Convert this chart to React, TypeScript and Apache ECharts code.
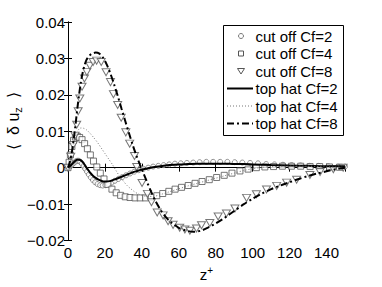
import React, { useEffect, useRef } from "react";
import * as echarts from "echarts";

// cut off Cf=2 (circles)
const cutOff2: [number, number][] = [
  [0, 0], [0.5, 0.0001], [1, 0.0003], [1.5, 0.0005], [2, 0.0008], [2.7, 0.0011], [3.4, 0.0014],
  [4.2, 0.0017], [5, 0.0019], [5.8, 0.0019], [6.6, 0.0016], [7.5, 0.0011], [8.4, 0.0004],
  [9.3, -0.0003], [10.3, -0.0011], [11.3, -0.0019], [12.4, -0.0027], [13.5, -0.0034],
  [14.7, -0.004], [16, -0.0045], [17.4, -0.0048], [18.8, -0.0049], [20.3, -0.0048],
  [21.9, -0.0045], [23.6, -0.0041], [25.4, -0.0036], [27.3, -0.0031], [29.3, -0.0026],
  [31.4, -0.0021], [33.6, -0.0016], [35.9, -0.0011], [38.3, -0.0007], [40.8, -0.0003],
  [43.4, 0.0], [46.1, 0.0003], [48.9, 0.0005], [51.8, 0.0007], [54.8, 0.0009], [57.9, 0.0011],
  [61.1, 0.0012], [64.4, 0.0013], [67.8, 0.0014], [71.3, 0.0015], [74.9, 0.0016], [78.6, 0.0016],
  [82.4, 0.0016], [86.3, 0.0016], [90.3, 0.0015], [94.4, 0.0014], [98.6, 0.0013], [102.9, 0.0012],
  [107.3, 0.001], [111.8, 0.0009], [116.4, 0.0008], [121.1, 0.0007], [125.9, 0.0006],
  [130.8, 0.0005], [135.8, 0.0005], [140.9, 0.0004], [146.1, 0.0003], [150, 0.0003],
];

// cut off Cf=4 (squares)
const cutOff4: [number, number][] = [
  [0, 0], [0.6, 0.0015], [1.3, 0.0035], [2.1, 0.0058], [3, 0.0075], [4, 0.0084], [5.1, 0.0086],
  [6.3, 0.0083], [7.6, 0.0077], [9, 0.0066], [10.5, 0.0052], [12.1, 0.0035], [13.8, 0.0018],
  [15.6, 0.0002], [17.5, -0.0015], [19.5, -0.0031], [21.6, -0.0046], [23.8, -0.0059],
  [26.1, -0.0069], [28.5, -0.0076], [31, -0.008], [33.6, -0.0082], [36.3, -0.0083],
  [39.1, -0.0083], [42, -0.0083], [45, -0.0081], [48.1, -0.0077], [51.3, -0.0071],
  [54.6, -0.0065], [58, -0.0059], [61.5, -0.0054], [65.1, -0.0049], [68.8, -0.0043],
  [72.6, -0.0038], [76.5, -0.0033], [80.5, -0.0027], [84.6, -0.0021], [88.8, -0.0015],
  [93.1, -0.0009], [97.5, -0.0004], [102, 0.0], [106.6, 0.0002], [111.3, 0.0003],
  [116.1, 0.0004], [121, 0.0004], [126, 0.0004], [131.1, 0.0003], [136.3, 0.0003],
  [141.6, 0.0002], [147, 0.0001],
];

// cut off Cf=8 (down triangles)
const cutOff8: [number, number][] = [
  [0, 0], [1.5, 0.003], [2.8, 0.0062], [3.8, 0.0088], [4.7, 0.0118], [5.5, 0.0155], [6.4, 0.019],
  [7.6, 0.0222], [8.9, 0.0245], [10.2, 0.0263], [11.8, 0.028], [13.6, 0.029], [15.5, 0.0294],
  [18, 0.029], [20.6, 0.0262], [23, 0.0235], [24.6, 0.0202], [26.9, 0.0172], [28.8, 0.0137],
  [31.3, 0.0097], [33.4, 0.0066], [36, 0.0032], [37.2, 0.0002], [40.1, -0.0042], [43, -0.0072],
  [45.2, -0.0095], [48.3, -0.0123], [51.5, -0.0131], [54.2, -0.0147], [56.9, -0.0157],
  [60.5, -0.0165], [63.3, -0.017], [66, -0.0173], [69.6, -0.0167], [72.3, -0.0158],
  [76.8, -0.0152], [81.3, -0.0134], [85.8, -0.0126], [90.4, -0.0112], [96.7, -0.0083],
  [102, -0.0073], [107.5, -0.006], [113, -0.005], [118.4, -0.0041], [123.8, -0.0033],
  [131, -0.002], [136.5, -0.0012], [143.7, -0.0004], [149, 0.0],
];

// top hat Cf=2 (solid)
const topHat2: [number, number][] = [
  [0, 0], [1, 0.0004], [2, 0.0009], [3, 0.0014], [4, 0.0019], [5, 0.0022], [6, 0.0022], [7, 0.002],
  [8, 0.0015], [9, 0.0008], [10, 0.0], [11, -0.0007], [12, -0.0014], [13.5, -0.0022], [15, -0.0028],
  [16.5, -0.0033], [18, -0.0036], [19.5, -0.0038], [21, -0.0038], [22.5, -0.0037], [24, -0.0035],
  [26, -0.0031], [28, -0.0027], [30, -0.0023], [32.5, -0.0018], [35, -0.0013], [37.5, -0.0009],
  [40, -0.0005], [43, -0.0002], [46, 0.0001], [50, 0.0004], [55, 0.0007], [60, 0.0009],
  [65, 0.001], [70, 0.0011], [75, 0.0011], [80, 0.0011], [85, 0.0011], [90, 0.001], [95, 0.001],
  [100, 0.0009], [110, 0.0007], [120, 0.0006], [130, 0.0005], [140, 0.0004], [150, 0.0004],
];

// top hat Cf=4 (dotted)
const topHat4: [number, number][] = [
  [0, 0], [1, 0.0018], [2, 0.0042], [3, 0.0066], [4, 0.0086], [5, 0.0099], [6, 0.0106], [7, 0.0109],
  [8.5, 0.0108], [10, 0.0104], [12, 0.0094], [14, 0.0082], [16, 0.0069], [18, 0.0054], [20, 0.0039],
  [22, 0.0024], [24, 0.0009], [26, -0.0008], [28, -0.0024], [30, -0.0037], [32, -0.0049],
  [34, -0.0058], [36, -0.0066], [38, -0.0072], [40, -0.0076], [43, -0.0079], [46, -0.0079],
  [50, -0.0074], [55, -0.0066], [60, -0.0058], [65, -0.005], [70, -0.0043], [75, -0.0036],
  [80, -0.0029], [85, -0.0022], [90, -0.0015], [95, -0.0008], [100, -0.0003], [105, 0.0001],
  [110, 0.0003], [120, 0.0004], [130, 0.0004], [140, 0.0002], [150, 0.0001],
];

// top hat Cf=8 (dash-dot)
const topHat8: [number, number][] = [
  [0, 0], [1, 0.0015], [2, 0.004], [3, 0.0075], [4, 0.0115], [5, 0.016], [6, 0.02], [7, 0.0235],
  [8, 0.0262], [9, 0.0282], [10, 0.0296], [11.5, 0.0307], [13, 0.0313], [15, 0.0316], [17, 0.0313],
  [19, 0.0302], [21, 0.0283], [23, 0.0258], [25, 0.0228], [27, 0.0196], [29, 0.0162], [31, 0.0128],
  [33, 0.0095], [35, 0.0063], [37, 0.0034], [39, 0.0008], [41, -0.0017], [43, -0.0042],
  [45, -0.0066], [47, -0.0088], [50, -0.0115], [53, -0.0136], [56, -0.0151], [60, -0.0165],
  [64, -0.0173], [68, -0.0176], [72, -0.0173], [76, -0.0164], [80, -0.0153], [85, -0.0137],
  [90, -0.0119], [95, -0.0101], [100, -0.0085], [105, -0.0071], [110, -0.0059], [115, -0.0049],
  [120, -0.004], [125, -0.0031], [130, -0.0023], [135, -0.0016], [140, -0.001], [145, -0.0004],
  [150, 0],
];

const seriesNames = [
  "cut off Cf=2",
  "cut off Cf=4",
  "cut off Cf=8",
  "top hat Cf=2",
  "top hat Cf=4",
  "top hat Cf=8",
];

const xMin = 0;
const xMax = 150;
const xInterval = 20;
const yMin = -0.02;
const yMax = 0.04;
const yInterval = 0.01;

const FONT = "'Liberation Sans', Arial, Helvetica, sans-serif";
const FS = 15;
const TRI_DOWN = "path://M0,0L10,0L5,9Z";

const CIRCLE_C = "#777";
const SQUARE_C = "#555";
const TRI_C = "#555";
const DOT_C = "#777";

function buildLegend() {
  const boxX = 223.5, boxY = 25.5, boxW = 120, boxH = 110;
  const rowY0 = 36, rowStep = 17.5;
  const markX = 241, lineX0 = 227, lineX1 = 253, textX = 255.5;
  const children: any[] = [
    { type: "rect", shape: { x: boxX, y: boxY, width: boxW, height: boxH }, style: { fill: "#fff", stroke: "#000", lineWidth: 1 } },
  ];
  seriesNames.forEach((name, i) => {
    const y = rowY0 + i * rowStep;
    if (i === 0) {
      children.push({ type: "circle", shape: { cx: markX, cy: y, r: 2.5 }, style: { fill: "#fff", stroke: CIRCLE_C, lineWidth: 1 } });
    } else if (i === 1) {
      children.push({ type: "rect", shape: { x: markX - 2.5, y: y - 2.5, width: 5, height: 5 }, style: { fill: "#fff", stroke: SQUARE_C, lineWidth: 1 } });
    } else if (i === 2) {
      children.push({ type: "polygon", shape: { points: [[markX - 3.5, y - 2.5], [markX + 3.5, y - 2.5], [markX, y + 3]] }, style: { fill: "#fff", stroke: TRI_C, lineWidth: 1 } });
    } else if (i === 3) {
      children.push({ type: "line", shape: { x1: lineX0, y1: y, x2: lineX1, y2: y }, style: { stroke: "#000", lineWidth: 2 } });
    } else if (i === 4) {
      children.push({ type: "line", shape: { x1: lineX0, y1: y, x2: lineX1, y2: y }, style: { stroke: DOT_C, lineWidth: 1, lineDash: [1, 2] } });
    } else {
      children.push({ type: "line", shape: { x1: lineX0, y1: y, x2: lineX1, y2: y }, style: { stroke: "#000", lineWidth: 2, lineDash: [7, 3, 2, 3] } });
    }
    children.push({
      type: "text", x: textX, y,
      style: { text: name, fontSize: FS, fontFamily: FONT, fill: "#000", align: "left", verticalAlign: "middle" },
    });
  });
  return { type: "group", z: 100, children };
}

export default function App() {
  const ref = useRef<HTMLDivElement>(null);
  useEffect(() => {
    if (!ref.current) return;
    const chart = echarts.init(ref.current, undefined, { renderer: "svg" });
    const yFmt = (v: number) => {
      if (Math.abs(v) < 1e-9) return "0";
      const s = Math.abs(v).toFixed(2);
      return v < 0 ? "\u2212" + s : s;
    };
    const axisLine = { show: true, lineStyle: { color: "#000", width: 1 } };
    const tick = { show: true, inside: true, length: 4, lineStyle: { color: "#000", width: 1 } };
    const labelStyle = { color: "#000", fontSize: FS, fontFamily: FONT };
    const markerStyle = (c: string) => ({ color: "#fff", borderColor: c, borderWidth: 1 });
    chart.setOption({
      animation: false,
      backgroundColor: "#fff",
      grid: { left: 68, right: 37, top: 22, bottom: 39 },
      xAxis: [
        {
          type: "value", min: xMin, max: xMax, interval: xInterval,
          axisLine, axisTick: tick, splitLine: { show: false },
          axisLabel: { ...labelStyle, margin: 4, showMaxLabel: false },
          name: "{a|z}{p|+}", nameLocation: "middle", nameGap: 25,
          nameTextStyle: {
            rich: {
              a: { fontSize: FS, fontFamily: FONT, color: "#000" },
              p: { fontSize: 10, fontFamily: FONT, color: "#000", padding: [0, 0, 8, 0] },
            },
          },
        },
        {
          type: "value", position: "top", min: xMin, max: xMax, interval: xInterval,
          axisLine, axisTick: tick, axisLabel: { show: false }, splitLine: { show: false },
        },
      ],
      yAxis: [
        {
          type: "value", min: yMin, max: yMax, interval: yInterval,
          axisLine, axisTick: tick, splitLine: { show: false },
          axisLabel: { ...labelStyle, margin: 3, formatter: yFmt },
        },
        {
          type: "value", position: "right", min: yMin, max: yMax, interval: yInterval,
          axisLine, axisTick: tick, axisLabel: { show: false }, splitLine: { show: false },
        },
      ],
      graphic: [
        buildLegend(),
        {
          type: "text",
          x: 13,
          y: 121,
          rotation: Math.PI / 2,
          style: {
            text: "{a|\u27e8  \u03b4 u}{s|z}{a|  \u27e9}",
            align: "center",
            verticalAlign: "middle",
            rich: {
              a: { fontSize: 16, fontFamily: FONT, fill: "#000", lineHeight: 20 },
              s: { fontSize: 11, fontFamily: FONT, fill: "#000", lineHeight: 20, padding: [9, 0, 0, 0] },
            },
          },
        },
      ],
      series: [
        {
          name: seriesNames[0], type: "scatter", data: cutOff2, symbol: "circle", symbolSize: 5,
          itemStyle: markerStyle(CIRCLE_C),
        },
        {
          name: seriesNames[1], type: "scatter", data: cutOff4, symbol: "rect", symbolSize: 6,
          itemStyle: markerStyle(SQUARE_C),
        },
        {
          name: seriesNames[2], type: "scatter", data: cutOff8, symbol: TRI_DOWN, symbolSize: [8, 7],
          itemStyle: markerStyle(TRI_C),
        },
        {
          name: seriesNames[3], type: "line", data: topHat2, symbol: "none", smooth: 0.3,
          lineStyle: { color: "#000", width: 2, type: "solid" }, itemStyle: { color: "#000" },
        },
        {
          name: seriesNames[4], type: "line", data: topHat4, symbol: "none", smooth: 0.3,
          lineStyle: { color: DOT_C, width: 1, type: [1, 2] }, itemStyle: { color: DOT_C },
        },
        {
          name: seriesNames[5], type: "line", data: topHat8, symbol: "none", smooth: 0.3,
          lineStyle: { color: "#000", width: 2, type: [7, 3, 2, 3] }, itemStyle: { color: "#000" },
        },
      ],
    });
    return () => chart.dispose();
  }, []);
  return <div ref={ref} style={{ width: 382, height: 287, position: "absolute", left: 0, top: 0 }} />;
}
